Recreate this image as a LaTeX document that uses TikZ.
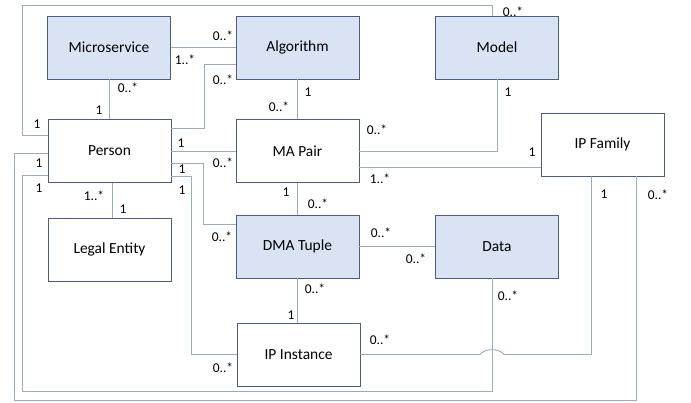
\documentclass[tikz,border=0pt]{standalone}
\usepackage{fontspec}
\setmainfont{Carlito}
\usetikzlibrary{calc}
\definecolor{boxfill}{HTML}{DAE3F3}
\definecolor{boxline}{HTML}{4A5E82}
\definecolor{wirecol}{HTML}{9AABC6}
\begin{document}
\begin{tikzpicture}[x=1bp,y=-1bp,
  cls/.style={draw=boxline, line width=0.9bp, minimum width=123bp, minimum height=63bp,
              inner sep=0pt, font=\fontsize{15.5}{18}\selectfont},
  hl/.style={cls, fill=boxfill},
  plain/.style={cls, fill=white},
  wire/.style={draw=wirecol, line width=0.9bp},
  mult/.style={font=\fontsize{13.5}{15}\selectfont, inner sep=0pt}]
\useasboundingbox (0,0) rectangle (691,402);

% classes
\node[hl]    (ms)     at (109,47.5)    {Microservice};
\node[hl]    (alg)    at (297.5,47.5)  {Algorithm};
\node[hl]    (model)  at (497,47.5)    {Model};
\node[plain] (person) at (109.5,151)   {Person};
\node[plain] (ma)     at (297.5,151)   {MA Pair};
\node[plain] (ipf)    at (602.5,144.5) {IP Family};
\node[plain] (legal)  at (109.5,249.5) {Legal Entity};
\node[hl]    (dma)    at (297.5,246.5) {DMA Tuple};
\node[hl]    (data)   at (497,246.5)   {Data};
\node[plain] (ipi)    at (298.5,354.5) {IP Instance};

% associations
\draw[wire] (ms.east) -- (alg.west);
\draw[wire] (ms.south) -- (ms.south |- person.north);
\coordinate (pa) at ([yshift=23bp]person.east);
\draw[wire] (pa) -- ++(33,0) |- ([yshift=-16.5bp]alg.west);
\draw[wire] (person.east) -- (ma.west);
\coordinate (pt) at ([yshift=16bp]person.west);
\draw[wire] (pt) -- ++(-25,0) |- ([xshift=-5bp,yshift=10bp]model.north) -- ([xshift=-5bp]model.north);
\draw[wire] (alg.south) -- (ma.north);
\draw[wire] (model.south) |- (ma.east);
\coordinate (mf) at ([yshift=-16bp]ma.east);
\draw[wire] (mf) -- (mf -| ipf.west);
\coordinate (pf) at ([yshift=-2bp]person.west);
\draw[wire] (pf) -- ++(-33.5,0) -- ++(0,247) -| ([xshift=33.5bp]ipf.south);
\coordinate (pd) at ([yshift=-24bp]person.west);
\draw[wire] (pd) -- ++(-25,0) -- ++(0,216) -| ([xshift=-5bp]data.south);
\draw[wire] ([xshift=2.5bp]person.south) -- ([xshift=2.5bp]legal.north);
\coordinate (pm) at ([yshift=-12bp]person.east);
\draw[wire] (pm) -- ++(32,0) |- ([yshift=22.5bp]dma.west);
\coordinate (pi) at ([yshift=-25bp]person.east);
\draw[wire] (pi) -- ++(20,0) |- (ipi.west);
\draw[wire] (ma.south) -- (dma.north);
\draw[wire] (dma.east) -- (data.west);
\draw[wire] (dma.south) -- (dma.south |- ipi.north);
% IP Instance -- IP Family, hopping over the Data line
\coordinate (dl) at ([xshift=-5bp]data.south);
\coordinate (hop) at (dl |- ipi.east);
\draw[wire] (ipi.east) -- ($(hop)+(-12,0)$)
  .. controls ($(hop)+(-7,-6.5)$) and ($(hop)+(7,-6.5)$) .. ($(hop)+(12,0)$)
  -| ([xshift=-11bp]ipf.south);

% multiplicities
\node[mult] (m1)  at (223,36)  {0..*};
\node[mult] (m2)  at (185,60)  {1..*};
\node[mult] (m3)  at (223,80)  {0..*};
\node[mult] (m4)  at (128,88)  {0..*};
\node[mult] (m5)  at (99,110)  {1};
\node[mult] (m6)  at (308,92)  {1};
\node[mult] (m7)  at (279,107) {0..*};
\node[mult] (m8)  at (37,124)  {1};
\node[mult] (m9)  at (181,143) {1};
\node[mult] (m10) at (223,163) {0..*};
\node[mult] (m11) at (39,163)  {1};
\node[mult] (m12) at (182,169) {1};
\node[mult] (m13) at (39,188)  {1};
\node[mult] (m14) at (182,190) {1};
\node[mult] (m15) at (94,196)  {1..*};
\node[mult] (m16) at (123,209) {1};
\node[mult] (m17) at (286,192) {1};
\node[mult] (m18) at (318,204) {0..*};
\node[mult] (m19) at (222,237) {0..*};
\node[mult] (m20) at (315,289) {0..*};
\node[mult] (m21) at (291,315) {1};
\node[mult] (m22) at (223,368) {0..*};
\node[mult] (m23) at (381,233) {0..*};
\node[mult] (m24) at (416,259) {0..*};
\node[mult] (m25) at (508,296) {0..*};
\node[mult] (m26) at (380,340) {0..*};
\node[mult] (m27) at (604,194) {1};
\node[mult] (m28) at (658,195) {0..*};
\node[mult] (m29) at (513,12)  {0..*};
\node[mult] (m30) at (508,92)  {1};
\node[mult] (m31) at (377,130) {0..*};
\node[mult] (m32) at (532,152) {1};
\node[mult] (m33) at (380,179) {1..*};
\end{tikzpicture}
\end{document}
